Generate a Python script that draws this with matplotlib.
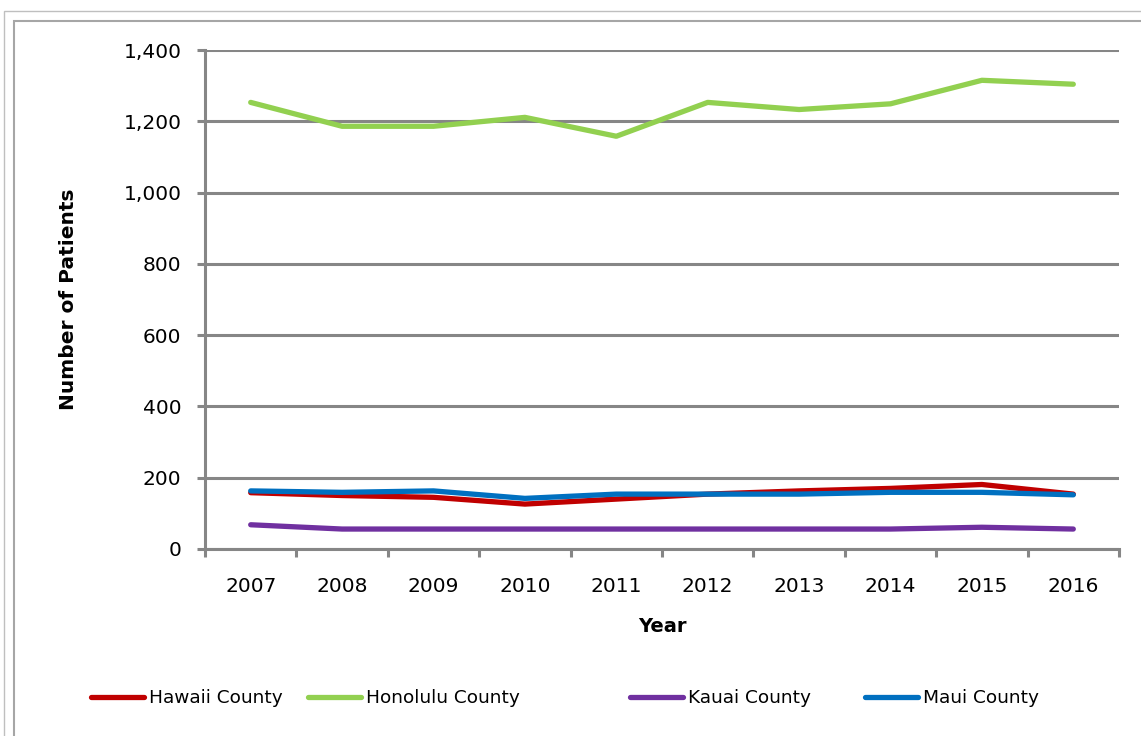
import matplotlib
matplotlib.use("Agg")
import matplotlib.pyplot as plt
from matplotlib.patches import Rectangle

years = ["2007", "2008", "2009", "2010", "2011", "2012", "2013", "2014", "2015", "2016"]
hawaii = [158, 150, 145, 126, 140, 154, 163, 170, 181, 154]
honolulu = [1253, 1186, 1186, 1211, 1158, 1253, 1233, 1249, 1315, 1304]
kauai = [68, 56, 56, 56, 56, 56, 56, 56, 61, 56]
maui = [163, 159, 163, 142, 154, 154, 154, 159, 159, 152]

series = [
    ("Hawaii County", hawaii, "#C00000"),
    ("Honolulu County", honolulu, "#92D050"),
    ("Kauai County", kauai, "#7030A0"),
    ("Maui County", maui, "#0070C0"),
]

plt.rcParams['font.family'] = ['DejaVu Sans']
W, H = 1141, 736
fig = plt.figure(figsize=(W / 100, H / 100), dpi=100)

# outer frames
fig.patches.append(Rectangle((4 / W, -0.1), 1.2, 1 - 11 / H + 0.1, transform=fig.transFigure,
                             fill=False, edgecolor="#BFBFBF", linewidth=1.0))
fig.patches.append(Rectangle((14 / W, -0.1), 1.2, 1 - 21 / H + 0.1, transform=fig.transFigure,
                             fill=False, edgecolor="#A6A6A6", linewidth=1.5))

left, right, top, bottom = 205, 1119, 50, 549
ax = fig.add_axes([left / W, 1 - bottom / H, (right - left) / W, (bottom - top) / H])

x = list(range(len(years)))
handles = []
for name, vals, col in series:
    h, = ax.plot(x, vals, color=col, linewidth=3.8, solid_capstyle='round', label=name, zorder=3)
    handles.append(h)

ax.set_xlim(-0.5, len(years) - 0.5)
ax.set_ylim(0, 1400)
ax.set_yticks(range(0, 1401, 200))
ax.set_yticklabels([f"{v:,}" for v in range(0, 1401, 200)])
ax.set_xticks(x)
ax.set_xticklabels(years)
ax.set_xticks([i - 0.5 for i in range(len(years) + 1)], minor=True)
ax.tick_params(axis='x', which='major', length=0, pad=20, labelsize=14.5)
ax.tick_params(axis='x', which='minor', length=6, width=2.2, color="#868686", direction='out')
ax.tick_params(axis='y', length=6, width=2.2, color="#868686", direction='out', pad=11, labelsize=14.5)

ax.grid(axis='y', color="#868686", linewidth=2.2, zorder=1)
ax.set_axisbelow(True)
for s in ['top', 'right']:
    ax.spines[s].set_visible(False)
for s in ['left', 'bottom']:
    ax.spines[s].set_color("#868686")
    ax.spines[s].set_linewidth(2.2)

ax.set_xlabel("Year", fontsize=14, fontweight='bold', labelpad=15)
ax.set_ylabel("Number of Patients", fontsize=14.5, fontweight='bold', labelpad=33)

# legend entries placed individually (Excel-style spacing)
leg_x = [91, 308, 630, 865]
for h, lx in zip(handles, leg_x):
    fig.legend(handles=[h], loc='center left', bbox_to_anchor=(lx / W, 1 - 698 / H),
               frameon=False, fontsize=13.3, handlelength=2.85, handletextpad=0.3,
               borderpad=0, borderaxespad=0)

fig.savefig("out.png", dpi=100)
